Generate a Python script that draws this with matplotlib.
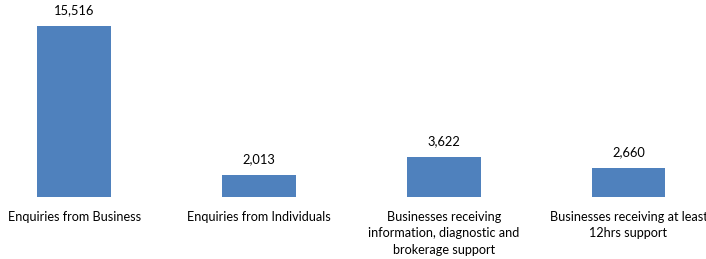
import matplotlib.pyplot as plt

# data
categories = [
    "Enquiries from Business",
    "Enquiries from Individuals",
    "Businesses receiving\ninformation, diagnostic and\nbrokerage support",
    "Businesses receiving at least\n12hrs support",
]
values = [15516, 2013, 3622, 2660]

plt.rcParams["font.family"] = ["Lato", "DejaVu Sans"]

fig = plt.figure(figsize=(7.06, 2.59), dpi=100)
ax = fig.add_axes([0, 62 / 259, 1, 197 / 259])

x = range(len(values))
bars = ax.bar(x, values, width=0.4, color="#4F81BD")

for bar, v in zip(bars, values):
    ax.annotate(f"{v:,}", (bar.get_x() + bar.get_width() / 2, v),
                xytext=(0, 7), textcoords="offset points",
                ha="center", va="bottom", fontsize=9.3, color="black")

ax.set_xlim(-0.403, 3.42)
ax.set_ylim(0, 17875)
ax.set_xticks(list(x))
ax.set_xticklabels(categories, fontsize=9.1, linespacing=1.45)
ax.tick_params(axis="x", length=0, pad=10)
ax.set_yticks([])
for s in ax.spines.values():
    s.set_visible(False)

fig.savefig("out.png", dpi=100)
